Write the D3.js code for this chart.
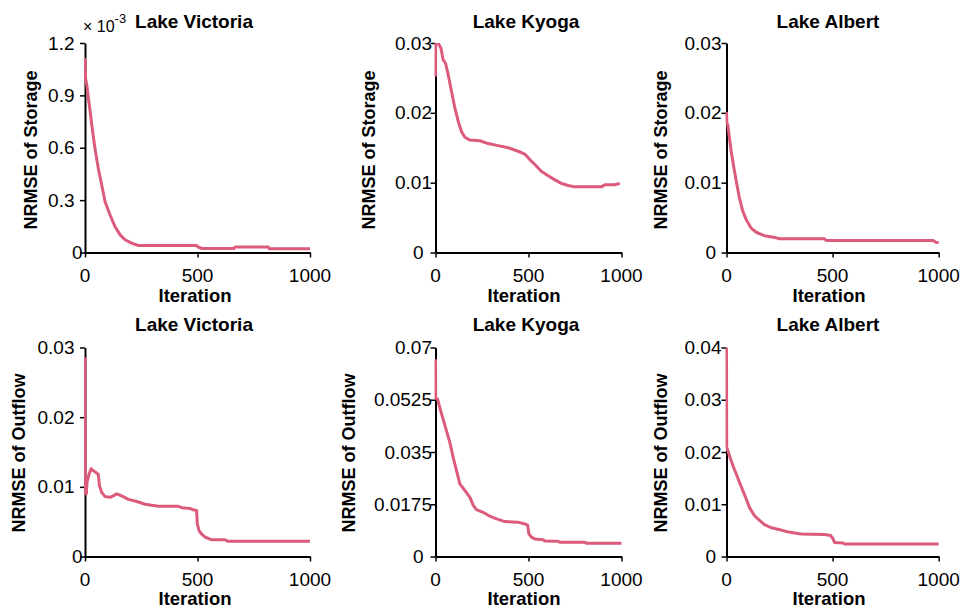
<!DOCTYPE html>
<html>
<head>
<meta charset="utf-8">
<script src="https://cdn.jsdelivr.net/npm/d3@7"></script>
<style>
  html, body { margin: 0; padding: 0; background: #fff; }
  svg { display: block; }
  text { font-family: "Liberation Sans", Arial, sans-serif; fill: #000; }
</style>
</head>
<body>
<svg id="chart" width="960" height="611"></svg>
<script>
// ---------------- DATA ----------------
const lakes = ["Lake Victoria", "Lake Kyoga", "Lake Albert"];
const xTicks = [0, 500, 1000];

// y tick values (Lake Victoria storage is in units of 10^-3)
const victoriaStorageTicks = [0, 0.3, 0.6, 0.9, 1.2];
const kyogaStorageTicks    = [0, 0.01, 0.02, 0.03];
const albertStorageTicks   = [0, 0.01, 0.02, 0.03];
const victoriaOutflowTicks = [0, 0.01, 0.02, 0.03];
const kyogaOutflowTicks    = [0, 0.0175, 0.035, 0.0525, 0.07];
const albertOutflowTicks   = [0, 0.01, 0.02, 0.03, 0.04];

// [iteration, NRMSE]
const victoriaStorage = [[0,1.114],[2,1.0],[8,0.96],[15,0.885],[22,0.818],[30,0.732],[44,0.598],[59,0.483],[74,0.388],[89,0.292],[111,0.216],[133,0.149],[156,0.101],[178,0.073],[207,0.054],[237,0.040],[496,0.040],[505,0.030],[521,0.023],[662,0.023],[667,0.031],[815,0.031],[819,0.021],[1000,0.021]];
const kyogaStorage = [[0,0.0252],[1,0.0305],[14,0.0300],[29,0.0293],[41,0.0276],[54,0.0271],[68,0.0255],[86,0.0231],[104,0.0207],[122,0.0188],[140,0.0173],[158,0.0165],[185,0.0161],[238,0.0160],[283,0.0156],[337,0.0153],[391,0.0150],[444,0.0145],[480,0.0141],[507,0.0133],[534,0.0126],[570,0.0116],[606,0.0110],[642,0.0104],[677,0.0099],[713,0.0096],[749,0.0094],[892,0.0094],[910,0.0097],[964,0.0097],[991,0.0099]];
const albertStorage = [[0,0.0201],[2,0.0185],[6,0.0183],[14,0.0164],[22,0.0145],[35,0.0121],[46,0.0102],[61,0.0078],[77,0.0059],[93,0.0047],[116,0.0035],[140,0.0029],[179,0.0024],[234,0.0021],[250,0.00196],[462,0.00196],[470,0.00172],[973,0.00172],[989,0.00143],[1000,0.00143]];
const victoriaOutflow = [[0,0.0286],[1,0.0090],[6,0.0090],[9,0.0107],[18,0.0118],[27,0.0126],[37,0.0123],[47,0.0121],[59,0.0118],[64,0.0102],[74,0.0092],[89,0.0086],[111,0.0085],[126,0.0087],[141,0.0090],[163,0.0087],[193,0.0082],[230,0.0079],[267,0.0075],[326,0.0072],[415,0.0072],[430,0.0070],[467,0.0069],[481,0.0067],[496,0.0066],[499,0.0047],[507,0.0037],[519,0.0032],[533,0.0028],[563,0.0024],[622,0.0024],[634,0.0022],[1000,0.0022]];
const kyogaOutflow = [[0,0.0661],[1,0.0530],[11,0.0527],[23,0.0499],[41,0.0460],[59,0.0421],[77,0.0382],[95,0.0332],[113,0.0288],[131,0.0243],[158,0.0221],[185,0.0198],[203,0.0171],[220,0.0157],[256,0.0148],[292,0.0135],[328,0.0126],[373,0.0117],[444,0.0115],[480,0.0109],[495,0.0106],[502,0.0076],[516,0.0065],[534,0.0059],[579,0.0056],[588,0.0052],[659,0.0051],[668,0.0048],[803,0.0048],[812,0.0044],[1000,0.0044]];
const albertOutflow = [[0,0.040],[1,0.0209],[14,0.0193],[30,0.0174],[46,0.0158],[61,0.0142],[77,0.0126],[93,0.0110],[108,0.0094],[132,0.0078],[156,0.0069],[179,0.0061],[211,0.0055],[242,0.0052],[281,0.0048],[321,0.0045],[352,0.0043],[462,0.0042],[491,0.0040],[502,0.0034],[509,0.0027],[549,0.0026],[557,0.0024],[1000,0.0024]];

// ---------------- LAYOUT ----------------
const LINE_COLOR = "#dc5a7b";
const cols = [
  { x0: 85,    x1: 310,   ylab: 30,  title: 194, xlab: 195, nz: 10.5, z: 2.5 },
  { x0: 435.5, x1: 621.5, ylab: 368, title: 526, xlab: 524, nz: 3.5,  z: 12 },
  { x0: 726.5, x1: 938.7, ylab: 660, title: 828, xlab: 829, nz: 5,    z: 10.5 }
];
const rows = [
  { y0: 43,    y1: 252.5, label: "NRMSE of Storage", titleY: 28,  tickY: 282, xlabY: 302, ylabY: 150 },
  { y0: 347.5, y1: 556.5, label: "NRMSE of Outflow", titleY: 331, tickY: 586, xlabY: 605, ylabY: 453 }
];
rows[1].ylabXs = [18, 348, 660];
rows[0].ylabXs = [30, 368, 660];

const panels = [
  { r: 0, c: 0, data: victoriaStorage, ticks: victoriaStorageTicks, fmt: d => String(d) },
  { r: 0, c: 1, data: kyogaStorage,    ticks: kyogaStorageTicks,    fmt: d => String(d) },
  { r: 0, c: 2, data: albertStorage,   ticks: albertStorageTicks,   fmt: d => String(d) },
  { r: 1, c: 0, data: victoriaOutflow, ticks: victoriaOutflowTicks, fmt: d => String(d) },
  { r: 1, c: 1, data: kyogaOutflow,    ticks: kyogaOutflowTicks,    fmt: d => String(d) },
  { r: 1, c: 2, data: albertOutflow,   ticks: albertOutflowTicks,   fmt: d => String(d) }
];

const svg = d3.select("#chart");
const defs = svg.append("defs");

panels.forEach((p, i) => {
  const col = cols[p.c], row = rows[p.r];
  const x = d3.scaleLinear().domain([0, 1000]).range([col.x0, col.x1]);
  const ymax = p.ticks[p.ticks.length - 1];
  const y = d3.scaleLinear().domain([0, ymax]).range([row.y1, row.y0]);
  const g = svg.append("g");

  // y axis
  const ya = g.append("g").attr("transform", `translate(${col.x0},0)`)
    .call(d3.axisLeft(y).tickValues(p.ticks).tickFormat(p.fmt).tickSizeInner(5).tickSizeOuter(0));
  ya.selectAll(".tick text")
    .attr("x", d => d === 0 ? -col.z : -col.nz)
    .style("font-size", "19px")
    .attr("font-family", null);
  // x axis
  const xa = g.append("g").attr("transform", `translate(0,${row.y1})`)
    .call(d3.axisBottom(x).tickValues(xTicks).tickSizeInner(5).tickSizeOuter(0));
  xa.selectAll(".tick text").remove();
  [ya, xa].forEach(a => {
    a.select(".domain").attr("stroke", "#000").attr("stroke-width", 2);
    a.selectAll(".tick line").attr("stroke", "#000").attr("stroke-width", 1.5);
    a.attr("font-family", null).attr("font-size", null);
  });
  // x tick labels
  g.selectAll(".xtl").data(xTicks).enter().append("text")
    .attr("x", d => x(d)).attr("y", row.tickY)
    .attr("text-anchor", "middle").style("font-size", "19px")
    .text(d => d);

  // line
  const cid = "clip" + i;
  defs.append("clipPath").attr("id", cid).append("rect")
    .attr("x", col.x0 - 1).attr("y", row.y0).attr("width", col.x1 - col.x0 + 4).attr("height", row.y1 - row.y0);
  g.append("path").datum(p.data)
    .attr("clip-path", `url(#${cid})`)
    .attr("fill", "none").attr("stroke", LINE_COLOR).attr("stroke-width", 3)
    .attr("stroke-linejoin", "round")
    .attr("d", d3.line().x(d => x(d[0])).y(d => y(d[1])));

  // title
  g.append("text").attr("x", col.title).attr("y", row.titleY)
    .attr("text-anchor", "middle").style("font-size", "19px").style("font-weight", "bold")
    .text(lakes[p.c]);
  // x label
  g.append("text").attr("x", col.xlab).attr("y", row.xlabY)
    .attr("text-anchor", "middle").style("font-size", "18.5px").style("font-weight", "bold")
    .text("Iteration");
  // y label
  const lx = row.ylabXs[p.c] + 6.5;
  g.append("text").attr("transform", `translate(${lx},${row.ylabY}) rotate(-90)`)
    .attr("text-anchor", "middle").style("font-size", "18px").style("font-weight", "bold")
    .text(row.label);
});

// exponent label for Lake Victoria storage
const ex = svg.append("text").attr("x", 83).attr("y", 32).style("font-size", "16px");
ex.append("tspan").text("× 10");
ex.append("tspan").attr("dy", -9).style("font-size", "13px").text("-3");
</script>
</body>
</html>
